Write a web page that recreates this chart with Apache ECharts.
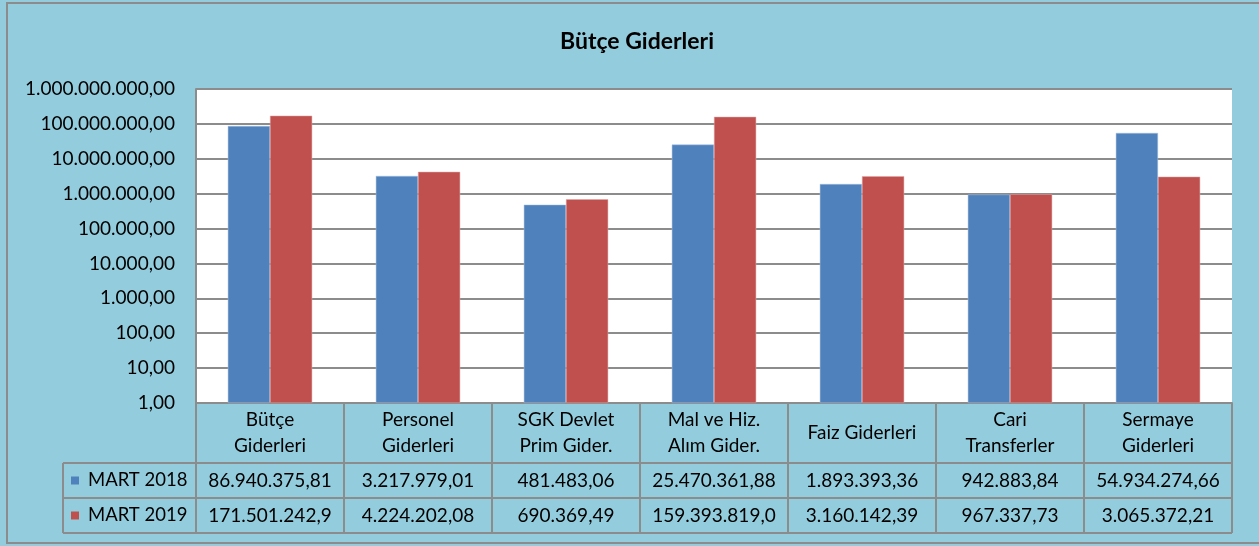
<!DOCTYPE html>
<html>
<head>
<meta charset="utf-8">
<script src="https://cdn.jsdelivr.net/npm/echarts@6/dist/echarts.min.js"></script>
<style>
  html, body { margin: 0; padding: 0; background: #93cddd; }
  #chart { width: 1259px; height: 546px; }
</style>
</head>
<body>
<div id="chart"></div>
<script>
const categories = [
  "Bütçe\nGiderleri",
  "Personel\nGiderleri",
  "SGK Devlet\nPrim Gider.",
  "Mal ve Hiz.\nAlım Gider.",
  "Faiz Giderleri",
  "Cari\nTransferler",
  "Sermaye\nGiderleri",
];
const seriesNames = ["MART 2018", "MART 2019"];
const mart2018 = [86940375.81, 3217979.01, 481483.06, 25470361.88, 1893393.36, 942883.84, 54934274.66];
const mart2019 = [171501242.9, 4224202.08, 690369.49, 159393819.0, 3160142.39, 967337.73, 3065372.21];
const colors = ["#4f81bd", "#c0504d"];

// Turkish number format: 1.234.567,89
function trNum(v) {
  const parts = v.toFixed(2).split(".");
  return parts[0].replace(/\B(?=(\d{3})+(?!\d))/g, ".") + "," + parts[1];
}

const FONT = "Lato, 'Open Sans', sans-serif";
const gridLeft = 196, gridTop = 89, gridW = 1036, gridH = 314;
const tableLeft = 63;
const rowY = [463, 498, 533];
const catW = gridW / categories.length;
const lineCol = "#8c8c8c";

const chart = echarts.init(document.getElementById("chart"));

const graphics = [
  // outer frame
  { type: "rect", shape: { x: 7, y: 3, width: 1262, height: 540 }, style: { fill: null, stroke: lineCol, lineWidth: 2 }, silent: true },
  {
    type: "text", x: 637, y: 42,
    style: { text: "Bütçe Giderleri", fill: "#000", font: "bold 23px " + FONT, align: "center", verticalAlign: "middle" },
  },
];
// table rows
rowY.forEach((y) => {
  graphics.push({ type: "line", shape: { x1: tableLeft, y1: y, x2: gridLeft + gridW, y2: y }, style: { stroke: lineCol, lineWidth: 2 } });
});
graphics.push({ type: "line", shape: { x1: tableLeft, y1: rowY[0], x2: tableLeft, y2: rowY[2] }, style: { stroke: lineCol, lineWidth: 2 } });

[mart2018, mart2019].forEach((vals, r) => {
  const cy = (rowY[r] + rowY[r + 1]) / 2;
  graphics.push({ type: "rect", shape: { x: 71, y: cy - 4, width: 8, height: 8 }, style: { fill: colors[r] } });
  graphics.push({
    type: "text", x: 88, y: cy,
    style: { text: seriesNames[r], fill: "#000", font: "18.5px " + FONT, align: "left", verticalAlign: "middle" },
  });
  vals.forEach((v, i) => {
    // Excel cuts values that do not fit the cell
    graphics.push({
      type: "text", x: gridLeft + (i + 0.5) * catW, y: cy,
      style: {
        text: trNum(v), fill: "#000", font: "19px " + FONT,
        align: "center", verticalAlign: "middle",
        width: catW - 16, overflow: "truncate", ellipsis: "",
      },
    });
  });
});

chart.setOption({
  backgroundColor: "#93cddd",
  animation: false,
  grid: { left: gridLeft, top: gridTop, width: gridW, height: gridH, backgroundColor: "#fff", show: true, borderWidth: 0 },
  xAxis: {
    type: "category",
    data: categories,
    axisLine: { lineStyle: { color: lineCol, width: 2 } },
    axisTick: { show: true, length: 130, lineStyle: { color: lineCol, width: 2 } },
    axisLabel: {
      interval: 0, margin: 30, verticalAlign: "middle",
      fontFamily: FONT, fontSize: 19, lineHeight: 26, color: "#000",
    },
  },
  yAxis: {
    type: "log",
    logBase: 10,
    min: 1,
    max: 1000000000,
    axisLine: { show: true, lineStyle: { color: lineCol, width: 2 } },
    axisTick: { show: false },
    splitLine: { lineStyle: { color: lineCol, width: 2 } },
    axisLabel: {
      margin: 21, fontFamily: FONT, fontSize: 19, color: "#000",
      formatter: (v) => trNum(Math.round(v)),
    },
  },
  series: [
    { name: seriesNames[0], type: "bar", data: mart2018, barGap: "0%", barCategoryGap: "43%", itemStyle: { color: colors[0], borderColor: "#a7c0de", borderWidth: 0.5 } },
    { name: seriesNames[1], type: "bar", data: mart2019, itemStyle: { color: colors[1], borderColor: "#dfa7a6", borderWidth: 0.5 } },
  ],
  graphic: graphics,
});
</script>
</body>
</html>
